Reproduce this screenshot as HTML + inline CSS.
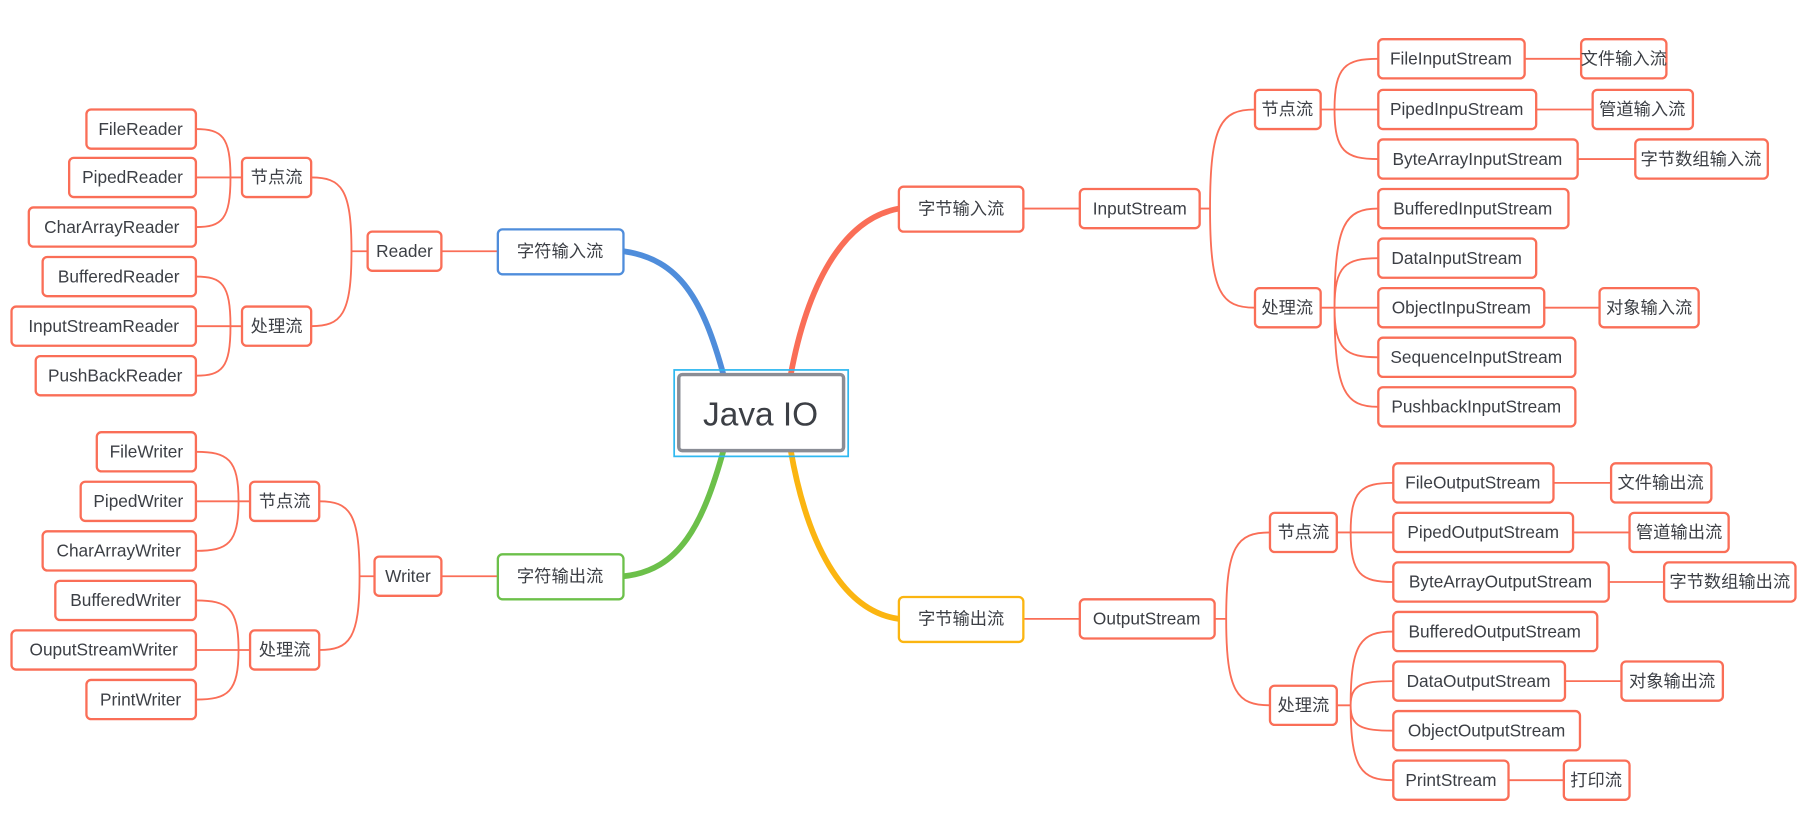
<!DOCTYPE html>
<html><head><meta charset="utf-8"><style>
html,body{margin:0;padding:0;background:#fff;}
svg{display:block}
text{font-family:"Liberation Sans","Noto Sans CJK SC",sans-serif;font-size:15px;fill:#3c3f45;text-anchor:middle}
.b{fill:#fff;stroke:#fa6e57;stroke-width:2}
.l{fill:none;stroke:#fa6e57;stroke-width:1.6}
</style></head><body>
<svg id="s" width="1807" height="839" viewBox="0 0 1568 728" preserveAspectRatio="none" xmlns="http://www.w3.org/2000/svg">
<g id="lines"></g>
<!-- main branches -->
<path d="M628 326 C610 260 590 225 541 218" fill="none" stroke="#4f8ddb" stroke-width="5"/>
<path d="M686 326 C700 250 730 190 780 181" fill="none" stroke="#fa6e57" stroke-width="5"/>
<path d="M628 390 C610 455 590 495 541 500" fill="none" stroke="#6cc04a" stroke-width="5"/>
<path d="M686 390 C700 470 730 530 780 537" fill="none" stroke="#fbb511" stroke-width="5"/>
<g id="boxes">
<rect x="585" y="321" width="151" height="75" fill="none" stroke="#2fb8f0" stroke-width="1.5"/>
<rect x="589" y="325" width="143" height="66" rx="3" fill="#fff" stroke="#8a8d95" stroke-width="3"/>
<text x="660" y="369" style="font-size:29px">Java IO</text>

<rect x="432" y="199" width="109" height="39" rx="4" fill="#fff" stroke="#4f8ddb" stroke-width="2"/><text x="486" y="223">字符输入流</text>
<rect x="432" y="481" width="109" height="39" rx="4" fill="#fff" stroke="#6cc04a" stroke-width="2"/><text x="486" y="505">字符输出流</text>
<rect x="780" y="162" width="108" height="39" rx="4" fill="#fff" stroke="#fa6e57" stroke-width="2"/><text x="834" y="186">字节输入流</text>
<rect x="780" y="518" width="108" height="39" rx="4" fill="#fff" stroke="#fbb511" stroke-width="2"/><text x="834" y="542">字节输出流</text>

<rect class="b" x="319" y="201" width="64" height="34" rx="4"/><text x="351" y="223">Reader</text>
<rect class="b" x="210" y="137" width="60" height="34" rx="4"/><text x="240" y="159">节点流</text>
<rect class="b" x="210" y="266" width="60" height="34" rx="4"/><text x="240" y="288">处理流</text>
<rect class="b" x="75" y="95" width="95" height="34" rx="4"/><text x="122" y="117">FileReader</text>
<rect class="b" x="60" y="137" width="110" height="34" rx="4"/><text x="115" y="159">PipedReader</text>
<rect class="b" x="25" y="180" width="145" height="34" rx="4"/><text x="97" y="202">CharArrayReader</text>
<rect class="b" x="37" y="223" width="133" height="34" rx="4"/><text x="103" y="245">BufferedReader</text>
<rect class="b" x="10" y="266" width="160" height="34" rx="4"/><text x="90" y="288">InputStreamReader</text>
<rect class="b" x="31" y="309" width="139" height="34" rx="4"/><text x="100" y="331">PushBackReader</text>

<rect class="b" x="325" y="483" width="58" height="34" rx="4"/><text x="354" y="505">Writer</text>
<rect class="b" x="217" y="418" width="60" height="34" rx="4"/><text x="247" y="440">节点流</text>
<rect class="b" x="217" y="547" width="60" height="34" rx="4"/><text x="247" y="569">处理流</text>
<rect class="b" x="84" y="375" width="86" height="34" rx="4"/><text x="127" y="397">FileWriter</text>
<rect class="b" x="70" y="418" width="100" height="34" rx="4"/><text x="120" y="440">PipedWriter</text>
<rect class="b" x="37" y="461" width="133" height="34" rx="4"/><text x="103" y="483">CharArrayWriter</text>
<rect class="b" x="48" y="504" width="122" height="34" rx="4"/><text x="109" y="526">BufferedWriter</text>
<rect class="b" x="10" y="547" width="160" height="34" rx="4"/><text x="90" y="569">OuputStreamWriter</text>
<rect class="b" x="75" y="590" width="95" height="34" rx="4"/><text x="122" y="612">PrintWriter</text>

<rect class="b" x="937" y="164" width="104" height="34" rx="4"/><text x="989" y="186">InputStream</text>
<rect class="b" x="1089" y="78" width="57" height="34" rx="4"/><text x="1117" y="100">节点流</text>
<rect class="b" x="1089" y="250" width="57" height="34" rx="4"/><text x="1117" y="272">处理流</text>
<rect class="b" x="1196" y="34" width="127" height="34" rx="4"/><text x="1259" y="56">FileInputStream</text>
<rect class="b" x="1196" y="78" width="137" height="34" rx="4"/><text x="1264" y="100">PipedInpuStream</text>
<rect class="b" x="1196" y="121" width="173" height="34" rx="4"/><text x="1282" y="143">ByteArrayInputStream</text>
<rect class="b" x="1196" y="164" width="165" height="34" rx="4"/><text x="1278" y="186">BufferedInputStream</text>
<rect class="b" x="1196" y="207" width="137" height="34" rx="4"/><text x="1264" y="229">DataInputStream</text>
<rect class="b" x="1196" y="250" width="144" height="34" rx="4"/><text x="1268" y="272">ObjectInpuStream</text>
<rect class="b" x="1196" y="293" width="171" height="34" rx="4"/><text x="1281" y="315">SequenceInputStream</text>
<rect class="b" x="1196" y="336" width="171" height="34" rx="4"/><text x="1281" y="358">PushbackInputStream</text>
<rect class="b" x="1372" y="34" width="74" height="34" rx="4"/><text x="1409" y="56">文件输入流</text>
<rect class="b" x="1382" y="78" width="87" height="34" rx="4"/><text x="1425" y="100">管道输入流</text>
<rect class="b" x="1419" y="121" width="115" height="34" rx="4"/><text x="1476" y="143">字节数组输入流</text>
<rect class="b" x="1388" y="250" width="86" height="34" rx="4"/><text x="1431" y="272">对象输入流</text>

<rect class="b" x="937" y="520" width="117" height="34" rx="4"/><text x="995" y="542">OutputStream</text>
<rect class="b" x="1102" y="445" width="58" height="34" rx="4"/><text x="1131" y="467">节点流</text>
<rect class="b" x="1102" y="595" width="58" height="34" rx="4"/><text x="1131" y="617">处理流</text>
<rect class="b" x="1209" y="402" width="139" height="34" rx="4"/><text x="1278" y="424">FileOutputStream</text>
<rect class="b" x="1209" y="445" width="156" height="34" rx="4"/><text x="1287" y="467">PipedOutputStream</text>
<rect class="b" x="1209" y="488" width="187" height="34" rx="4"/><text x="1302" y="510">ByteArrayOutputStream</text>
<rect class="b" x="1209" y="531" width="177" height="34" rx="4"/><text x="1297" y="553">BufferedOutputStream</text>
<rect class="b" x="1209" y="574" width="149" height="34" rx="4"/><text x="1283" y="596">DataOutputStream</text>
<rect class="b" x="1209" y="617" width="162" height="34" rx="4"/><text x="1290" y="639">ObjectOutputStream</text>
<rect class="b" x="1209" y="660" width="100" height="34" rx="4"/><text x="1259" y="682">PrintStream</text>
<rect class="b" x="1398" y="402" width="87" height="34" rx="4"/><text x="1441" y="424">文件输出流</text>
<rect class="b" x="1414" y="445" width="86" height="34" rx="4"/><text x="1457" y="467">管道输出流</text>
<rect class="b" x="1444" y="488" width="114" height="34" rx="4"/><text x="1501" y="510">字节数组输出流</text>
<rect class="b" x="1407" y="574" width="88" height="34" rx="4"/><text x="1451" y="596">对象输出流</text>
<rect class="b" x="1357" y="660" width="57" height="34" rx="4"/><text x="1385" y="682">打印流</text>
</g>
</svg>
<script>
(function(){
var g=document.getElementById('lines'),d='';
function c(pe,py,j,ce,cy){ // curve from parent edge through junction x to child edge
 d+='M'+pe+' '+py+'L'+j+' '+py+'C'+j+' '+(py+(cy-py)*0.85)+' '+(j+(ce-j)*0.25)+' '+cy+' '+ce+' '+cy;}
function s(x1,y,x2){d+='M'+x1+' '+y+'L'+x2+' '+y;}
// left
[112,154,197].forEach(function(y){c(210,154,200,170,y);});
[240,283,326].forEach(function(y){c(210,283,200,170,y);});
[154,283].forEach(function(y){c(319,218,305,270,y);});
s(383,218,432);
[392,435,478].forEach(function(y){c(217,435,207,170,y);});
[521,564,607].forEach(function(y){c(217,564,207,170,y);});
[435,564].forEach(function(y){c(325,500,312,277,y);});
s(383,500,432);
// right input
s(888,181,937);
[95,267].forEach(function(y){c(1041,181,1050,1089,y);});
[51,95,138].forEach(function(y){c(1146,95,1158,1196,y);});
[181,224,267,310,353].forEach(function(y){c(1146,267,1158,1196,y);});
s(1323,51,1372);s(1333,95,1382);s(1369,138,1419);s(1340,267,1388);
// right output
s(888,537,937);
[462,612].forEach(function(y){c(1054,537,1064,1102,y);});
[419,462,505].forEach(function(y){c(1160,462,1172,1209,y);});
[548,591,634,677].forEach(function(y){c(1160,612,1172,1209,y);});
s(1348,419,1398);s(1365,462,1414);s(1396,505,1444);s(1358,591,1407);s(1309,677,1357);
var p=document.createElementNS('http://www.w3.org/2000/svg','path');
p.setAttribute('d',d);p.setAttribute('class','l');g.appendChild(p);
})();
</script>
</body></html>
